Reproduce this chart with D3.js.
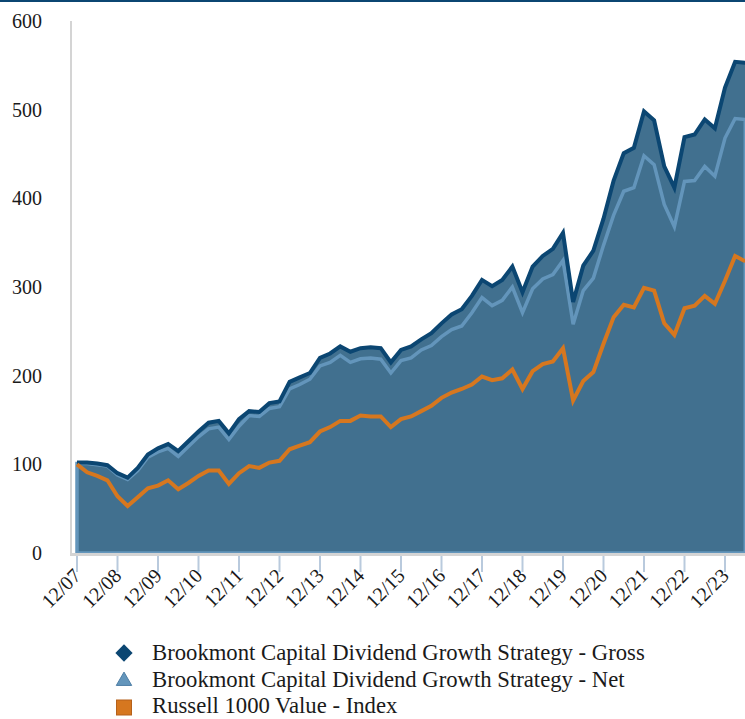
<!DOCTYPE html>
<html>
<head>
<meta charset="utf-8">
<script src="https://cdn.jsdelivr.net/npm/d3@7"></script>
<style>
  html, body { margin: 0; padding: 0; background: #ffffff; }
  svg { display: block; }
</style>
</head>
<body>
<svg id="chart" width="745" height="719"></svg>
<script>
// Quarter-end labels from 12/07 to 6/24
const quarters = (function () {
  const q = [];
  const months = ["12", "3", "6", "9"];
  for (let i = 0; i < 67; i++) {
    const m = months[i % 4];
    const yr = 7 + Math.ceil(i / 4);
    q.push(m + "/" + String(i % 4 === 0 ? 7 + i / 4 : yr).padStart(2, "0"));
  }
  return q;
})();

const grossValues = [102, 102, 101, 99, 90, 85, 96, 111, 118, 123, 115, 126, 137, 147, 149, 135,
  151, 160, 159, 169, 171, 193, 198, 203, 220, 225, 233, 227, 231, 232, 231, 215,
  229, 233, 241, 248, 259, 269, 275, 290, 308, 301, 308, 323, 294, 323, 335, 343,
  361, 283, 324, 341, 377, 420, 451, 457, 498, 488, 436, 412, 469, 472, 489, 479,
  525, 554, 553];

const netValues = [101, 101, 99.5, 98, 88, 83, 93, 108, 114, 118, 109, 120, 131, 140, 142, 128,
  143, 155, 154, 163, 165, 185, 190, 196, 211, 215, 223, 215, 219, 220, 218.5, 203,
  217, 220, 229, 234, 244, 252, 256, 271, 288, 279, 285, 300, 271, 298, 309, 314,
  330, 258, 296, 310, 347, 381, 408, 412, 448, 438, 393, 368, 419, 420, 436, 425,
  468, 490, 489];

const indexValues = [100, 91, 87, 82, 64, 53, 63, 73, 76, 82, 72, 79, 87, 93, 93, 78,
  90, 98, 96, 102, 104, 117, 121, 125, 137, 142, 149, 149, 155, 154, 154, 142,
  151, 154, 160, 166, 175, 181, 185, 190, 199, 195, 197, 207, 185, 205, 213, 216,
  231, 172, 194, 204, 236, 266, 280, 277, 299, 296, 259, 246, 276, 279, 290, 281,
  307, 335, 329];

const xTickLabels = ["12/07","12/08","12/09","12/10","12/11","12/12","12/13","12/14","12/15",
  "12/16","12/17","12/18","12/19","12/20","12/21","12/22","12/23"];
const yTicks = [0, 100, 200, 300, 400, 500, 600];

const seriesNames = [
  "Brookmont Capital Dividend Growth Strategy - Gross",
  "Brookmont Capital Dividend Growth Strategy - Net",
  "Russell 1000 Value - Index"
];

const C = {
  area: "#41708f",
  gross: "#0b4672",
  net: "#6395bb",
  index: "#d6771f",
  axis: "#d4d4d4",
  tick: "#b9cadd",
  text: "#1a1a1a",
  topBar: "#0b4672"
};

const svg = d3.select("#chart");
const serif = "'Liberation Serif', 'Times New Roman', serif";

const x = d3.scaleLinear().domain([0, 64]).range([77, 725]);
const y = d3.scaleLinear().domain([0, 600]).range([553, 21]);

// top bar
svg.append("rect").attr("x", 0).attr("y", 0).attr("width", 745).attr("height", 2).attr("fill", C.topBar);

const idx = d3.range(grossValues.length);

// gross area
svg.append("path")
  .datum(idx)
  .attr("fill", C.area)
  .attr("d", d3.area().x(i => x(i)).y0(y(0)).y1(i => y(grossValues[i])));

// net area with stroke (gives left-edge light strip)
svg.append("path")
  .datum(idx)
  .attr("fill", C.area)
  .attr("stroke", C.net)
  .attr("stroke-width", 3.5)
  .attr("stroke-linejoin", "miter")
  .attr("d", d3.area().x(i => x(i)).y0(y(0)).y1(i => y(netValues[i])));

// gross line
svg.append("path")
  .datum(idx)
  .attr("fill", "none")
  .attr("stroke", C.gross)
  .attr("stroke-width", 4)
  .attr("stroke-linejoin", "miter")
  .attr("d", d3.line().x(i => x(i)).y(i => y(grossValues[i])));

// index line
svg.append("path")
  .datum(idx)
  .attr("fill", "none")
  .attr("stroke", C.index)
  .attr("stroke-width", 4)
  .attr("stroke-linejoin", "miter")
  .attr("d", d3.line().x(i => x(i)).y(i => y(indexValues[i])));

// y axis line
svg.append("line")
  .attr("x1", 71).attr("x2", 71).attr("y1", y(600)).attr("y2", y(0) + 2)
  .attr("stroke", C.axis).attr("stroke-width", 2);

// x axis baseline
svg.append("line")
  .attr("x1", 70).attr("x2", 745).attr("y1", y(0) + 1.5).attr("y2", y(0) + 1.5)
  .attr("stroke", C.axis).attr("stroke-width", 3);

// y tick labels
svg.append("g").selectAll("text")
  .data(yTicks)
  .join("text")
  .attr("x", 42)
  .attr("y", d => y(d))
  .attr("dy", "0.35em")
  .attr("text-anchor", "end")
  .attr("font-family", serif)
  .attr("font-size", 20)
  .attr("fill", C.text)
  .text(d => d);

// x ticks
const xt = svg.append("g");
xTickLabels.forEach((lab, k) => {
  const xi = x(k * 4);
  xt.append("line")
    .attr("x1", xi).attr("x2", xi).attr("y1", y(0) + 3).attr("y2", y(0) + 19)
    .attr("stroke", C.tick).attr("stroke-width", 2);
  xt.append("text")
    .attr("transform", `translate(${xi + 5},${y(0) + 24}) rotate(-45)`)
    .attr("text-anchor", "end")
    .attr("font-family", serif)
    .attr("font-size", 20)
    .attr("fill", C.text)
    .text(lab);
});

// legend
const lg = svg.append("g");
const rowY = [653, 680, 706];
const mx = 124;
lg.append("path")
  .attr("d", d3.symbol(d3.symbolDiamond2, 190)())
  .attr("transform", `translate(${mx},${rowY[0]})`)
  .attr("fill", C.gross);
lg.append("path")
  .attr("d", d3.symbol(d3.symbolTriangle2, 170)())
  .attr("transform", `translate(${mx},${rowY[1] + 1})`)
  .attr("fill", C.net)
  .attr("stroke", "#4f7fa6").attr("stroke-width", 1);
lg.append("rect")
  .attr("x", mx - 7.5).attr("y", rowY[2] - 6).attr("width", 15).attr("height", 15)
  .attr("fill", C.index).attr("stroke", "#b5611a").attr("stroke-width", 1);
seriesNames.forEach((name, k) => {
  lg.append("text")
    .attr("x", 152)
    .attr("y", rowY[k])
    .attr("dy", "0.33em")
    .attr("font-family", serif)
    .attr("font-size", 22.7)
    .attr("fill", C.text)
    .text(name);
});
</script>
</body>
</html>
